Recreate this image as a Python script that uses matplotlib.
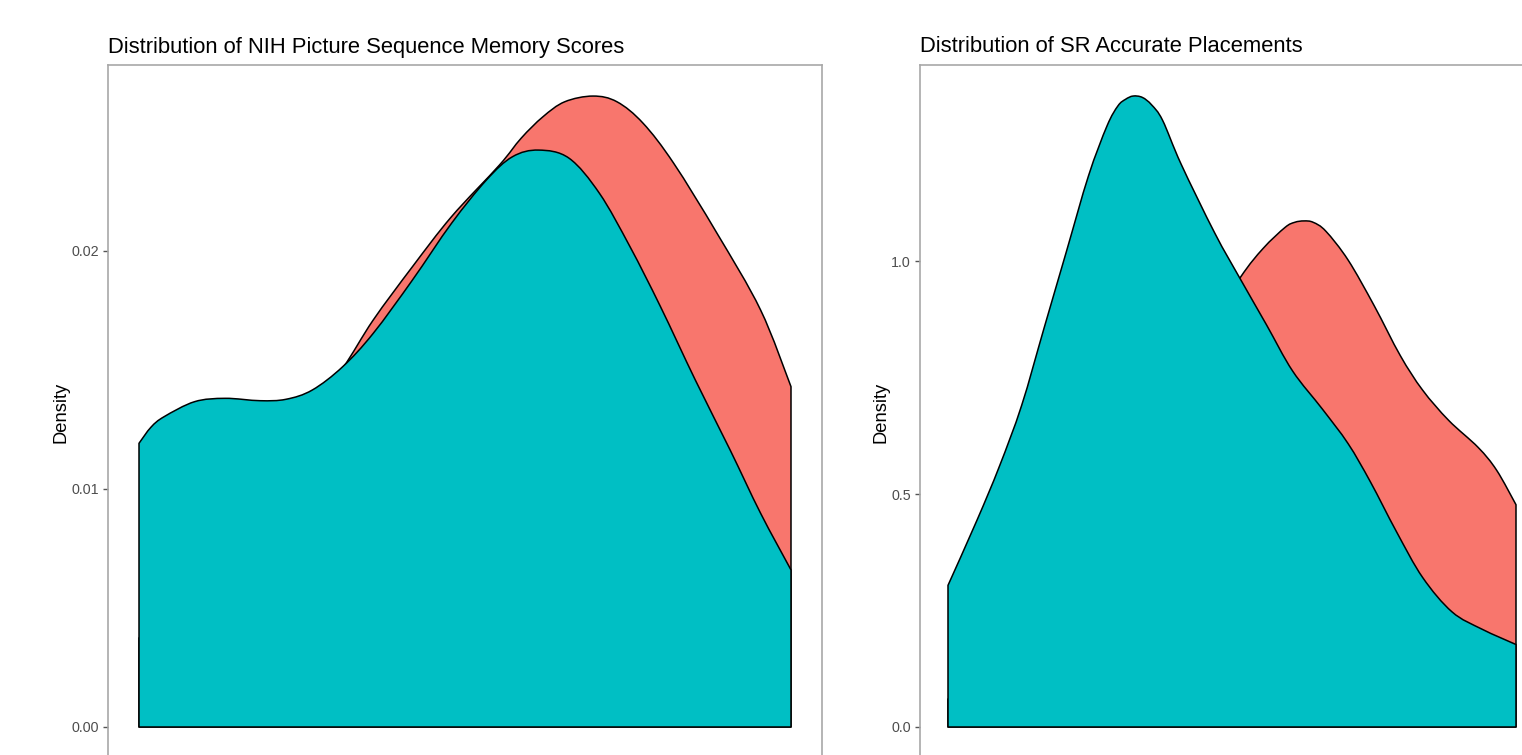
import matplotlib
matplotlib.use("Agg")
import matplotlib.pyplot as plt
from matplotlib.path import Path
from matplotlib.patches import PathPatch
import numpy as np

plt.rcParams['font.family'] = ['Liberation Sans', 'DejaVu Sans']

RED = '#F8766D'
TEAL = '#00BFC4'

# ---- Left panel: NIH Picture Sequence Memory scores (density estimates) ----
nih_red_x = [75.00, 77.49, 80.58, 83.57, 87.06, 89.65, 92.25, 95.31, 98.35, 102.26,
             106.15, 110.93, 113.10, 115.27, 117.44, 120.26, 122.65, 125.25, 128.30,
             132.63, 136.97, 140.00]
nih_red_y = [0.00374, 0.00492, 0.00660, 0.00849, 0.01059, 0.01206, 0.01353, 0.01508,
             0.01710, 0.01934, 0.02144, 0.02361, 0.02474, 0.02564, 0.02627, 0.02651,
             0.02627, 0.02537, 0.02369, 0.02074, 0.01752, 0.01430]

nih_teal_x = [75.00, 76.20, 77.51, 80.55, 83.59, 87.06, 89.66, 92.28, 95.31, 98.35,
              102.26, 106.15, 109.63, 112.23, 114.84, 117.87, 120.91, 123.95, 126.99,
              130.46, 133.93, 136.97, 140.00]
nih_teal_y = [0.01192, 0.01260, 0.01304, 0.01367, 0.01381, 0.01371, 0.01377, 0.01416,
              0.01514, 0.01654, 0.01878, 0.02116, 0.02298, 0.02396, 0.02424, 0.02390,
              0.02242, 0.02018, 0.01766, 0.01458, 0.01164, 0.00898, 0.00660]

# ---- Right panel: SR accurate placements (density estimates) ----
sr_red_x = [0.00, 0.10, 0.20, 0.30, 0.40, 0.50, 0.60, 0.695, 0.749, 0.801, 0.824,
            0.846, 0.868, 0.898, 0.951, 1.013, 1.075, 1.128, 1.190, 1.260, 1.304, 1.350]
sr_red_y = [0.06, 0.15, 0.28, 0.42, 0.56, 0.70, 0.83, 0.965, 1.027, 1.072, 1.083,
            1.086, 1.083, 1.064, 1.002, 0.904, 0.797, 0.723, 0.658, 0.600, 0.551, 0.477]

sr_teal_x = [0.000, 0.069, 0.122, 0.175, 0.228, 0.281, 0.334, 0.378, 0.404, 0.422,
             0.440, 0.462, 0.484, 0.510, 0.554, 0.634, 0.695, 0.757, 0.819, 0.890,
             0.951, 1.004, 1.066, 1.128, 1.198, 1.269, 1.350]
sr_teal_y = [0.304, 0.444, 0.559, 0.690, 0.855, 1.019, 1.183, 1.290, 1.333, 1.347,
             1.354, 1.351, 1.335, 1.302, 1.208, 1.060, 0.961, 0.863, 0.764, 0.682,
             0.608, 0.526, 0.419, 0.321, 0.247, 0.210, 0.177]

W, H = 1522, 755
fig = plt.figure(figsize=(W / 100, H / 100), dpi=100)
fig.patch.set_facecolor('white')


def px_axes(left, right, top, bottom):
    return fig.add_axes([left / W, (H - bottom) / H, (right - left) / W, (bottom - top) / H])


def density(ax, x, y, color):
    """Closed density polygon; the curve is drawn as a smooth Bezier path through the points."""
    P = np.column_stack([x, y]).astype(float)
    n = len(P)
    verts = [(P[0, 0], 0.0), tuple(P[0])]
    codes = [Path.MOVETO, Path.LINETO]
    for i in range(n - 1):
        p0 = P[max(i - 1, 0)]
        p1 = P[i]
        p2 = P[i + 1]
        p3 = P[min(i + 2, n - 1)]
        c1 = p1 + (p2 - p0) / 6.0
        c2 = p2 - (p3 - p1) / 6.0
        verts += [tuple(c1), tuple(c2), tuple(p2)]
        codes += [Path.CURVE4] * 3
    verts += [(P[-1, 0], 0.0), (P[0, 0], 0.0)]
    codes += [Path.LINETO, Path.CLOSEPOLY]
    patch = PathPatch(Path(verts, codes), facecolor=color, edgecolor='black',
                      linewidth=1.1, joinstyle='round')
    ax.add_patch(patch)


def style(ax, title, yticks, ylabels):
    ax.set_yticks(yticks)
    ax.set_yticklabels(ylabels)
    ax.set_xticks([])
    for s in ax.spines.values():
        s.set_color('#a8a8a8')
        s.set_linewidth(1.2)
    ax.tick_params(axis='y', length=3.5, width=1.0, color='#555555',
                   labelcolor='#4d4d4d', labelsize=10.3, pad=3)
    ax.set_ylabel('Density', fontsize=13.2, color='black', labelpad=1.5)
    ax.set_title(title, loc='left', fontsize=15.8, pad=9, color='black')


# left panel: data x 75..140 drawn at px 139..791 ; panel px 108..822
ax1 = px_axes(108, 822, 65, 759)
density(ax1, nih_red_x, nih_red_y, RED)
density(ax1, nih_teal_x, nih_teal_y, TEAL)
sx = 65 / 652
ax1.set_xlim(75 - 31 * sx, 140 + 31 * sx)
ax1.set_ylim(-32 / 23800, 662 / 23800)
style(ax1, 'Distribution of NIH Picture Sequence Memory Scores',
      [0.0, 0.01, 0.02], ['0.00', '0.01', '0.02'])

# right panel: data x 0..1.35 drawn at px 948..1516 ; panel px 920..1544
ax2 = px_axes(920, 1544, 65, 759)
density(ax2, sr_red_x, sr_red_y, RED)
density(ax2, sr_teal_x, sr_teal_y, TEAL)
sx2 = 1.35 / 568
ax2.set_xlim(0 - 28 * sx2, 1.35 + 28 * sx2)
ax2.set_ylim(-32 / 466, 662 / 466)
style(ax2, 'Distribution of SR Accurate Placements',
      [0.0, 0.5, 1.0], ['0.0', '0.5', '1.0'])

fig.savefig('out.png', dpi=100, facecolor='white')
